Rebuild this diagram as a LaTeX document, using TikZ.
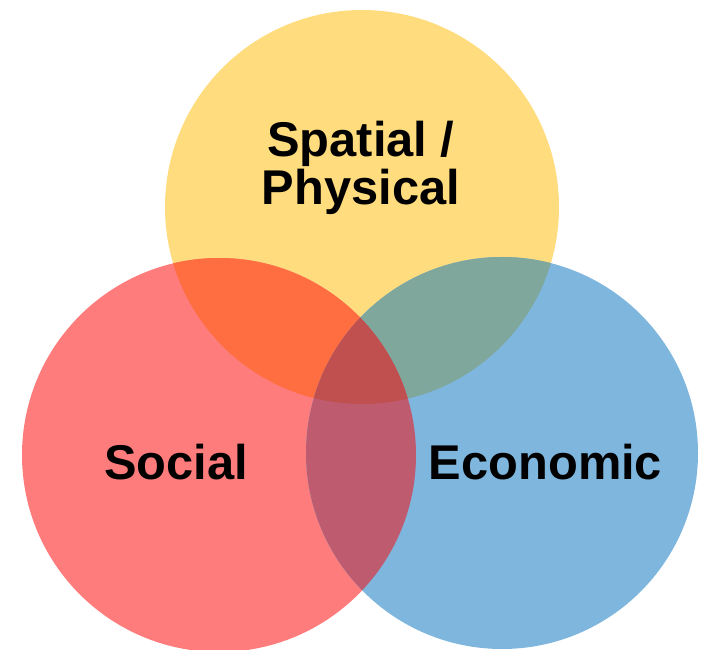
\documentclass[tikz,border=0pt]{standalone}
\usepackage{fontspec}
\setmainfont{Liberation Sans}

\definecolor{spatial}{HTML}{FFDC7D}
\definecolor{social}{HTML}{FF7C7C}
\definecolor{economic}{HTML}{7EB6DE}
\definecolor{spatialsocial}{HTML}{FF6E40}
\definecolor{spatialeconomic}{HTML}{7FA79C}
\definecolor{socialeconomic}{HTML}{BF5B6F}
\definecolor{allthree}{HTML}{C05050}

\begin{document}
\begin{tikzpicture}[x=1pt,y=1pt]
            \tikzstyle{areatext}=[font=\bfseries\fontsize{48.8}{48}\selectfont,align=center,inner sep=0pt]

            \useasboundingbox (0,0) rectangle (701,650);

            \coordinate (S) at (362,443);
            \coordinate (L) at (219,195);
            \coordinate (E) at (502,197);

            \fill[spatial] (S) circle (197pt);
            \fill[social] (L) circle (197pt);
            \fill[economic] (E) circle (196pt);

            % overlaps
            \begin{scope}
              \clip (S) circle (197pt);
              \fill[spatialsocial] (L) circle (197pt);
              \fill[spatialeconomic] (E) circle (196pt);
            \end{scope}
            \begin{scope}
              \clip (L) circle (197pt);
              \fill[socialeconomic] (E) circle (196pt);
            \end{scope}
            \begin{scope}
              \clip (S) circle (197pt);
              \clip (L) circle (197pt);
              \fill[allthree] (E) circle (196pt);
            \end{scope}

            \node (spatialtext) at (361,482) [areatext] {Spatial /\\Physical};
            \node (socialtext) at (176,170) [areatext,anchor=base] {Social};
            \node (economictext) at (545.5,170) [areatext,anchor=base] {Economic};
          \end{tikzpicture}
\end{document}
